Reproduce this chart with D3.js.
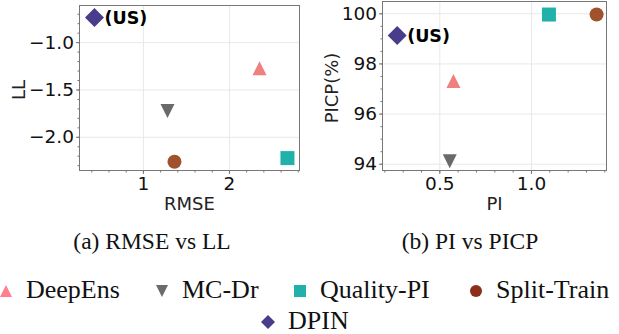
<!DOCTYPE html>
<html>
<head>
<meta charset="utf-8">
<script src="https://cdn.jsdelivr.net/npm/d3@7"></script>
<style>
  body { margin: 0; background: #fff; }
  .tk text { fill: #111; }
</style>
</head>
<body>
<div id="chart"></div>
<script>
// methods and their scores
var methods = ["DeepEns", "MC-Dr", "Quality-PI", "Split-Train", "DPIN"];
var rmse = [2.356, 1.286, 2.68, 1.367, 0.437];
var ll   = [-1.275, -1.728, -2.225, -2.264, -0.74];
var pi   = [0.577, 0.557, 1.098, 1.358, 0.27];
var picp = [97.3, 94.1, 99.95, 99.95, 99.11];

var shapes = ["up", "down", "square", "circle", "diamond"];
var colors = ["#f08080", "#696969", "#20b2aa", "#a0522d", "#483d8b"];
var legendColors = ["#ff7f8e", "#6b6b6b", "#20b2aa", "#8b2f1a", "#483d8b"];

var oursLabel = "(US)";
var captions = ["(a) RMSE vs LL", "(b) PI vs PICP"];

var svg = d3.select("#chart")
  .append("svg")
    .attr("width", 619)
    .attr("height", 334);

// marker path for each shape, r = half size
function marker(shape, r) {
  if (shape == "up") return "M0," + (-r) + "L" + r + "," + r + "L" + (-r) + "," + r + "Z";
  if (shape == "down") return "M0," + r + "L" + r + "," + (-r) + "L" + (-r) + "," + (-r) + "Z";
  if (shape == "square") return "M" + (-r) + "," + (-r) + "h" + (2*r) + "v" + (2*r) + "h" + (-2*r) + "Z";
  if (shape == "diamond") return "M0," + (-r) + "L" + r + ",0L0," + r + "L" + (-r) + ",0Z";
  return d3.symbol().type(d3.symbolCircle).size(Math.PI * r * r)();
}

function panel(p) {
  var x = d3.scaleLinear().domain(p.xd).range([p.left, p.right]);
  var y = d3.scaleLinear().domain(p.yd).range([p.bottom, p.top]);
  var w = p.right - p.left, h = p.bottom - p.top;

  var g = svg.append("g");

  // grid
  g.append("g")
    .attr("transform", "translate(0," + p.bottom + ")")
    .call(d3.axisBottom(x).tickValues(p.xt).tickSize(-h).tickFormat(""))
    .call(function(s) { s.select(".domain").remove(); })
    .selectAll("line").attr("stroke", "#e8e8e8");
  g.append("g")
    .attr("transform", "translate(" + p.left + ",0)")
    .call(d3.axisLeft(y).tickValues(p.yt).tickSize(-w).tickFormat(""))
    .call(function(s) { s.select(".domain").remove(); })
    .selectAll("line").attr("stroke", "#e8e8e8");

  // minor ticks
  g.append("g")
    .attr("transform", "translate(0," + p.bottom + ")")
    .call(d3.axisBottom(x).tickValues(p.xm).tickSize(2).tickFormat(""))
    .call(function(s) { s.select(".domain").remove(); })
    .selectAll("line").attr("stroke", "#777");
  g.append("g")
    .attr("transform", "translate(" + p.left + ",0)")
    .call(d3.axisLeft(y).tickValues(p.ym).tickSize(2).tickFormat(""))
    .call(function(s) { s.select(".domain").remove(); })
    .selectAll("line").attr("stroke", "#777");

  // major ticks and labels
  var xa = g.append("g")
    .attr("class", "tk")
    .attr("transform", "translate(0," + p.bottom + ")")
    .call(d3.axisBottom(x).tickValues(p.xt).tickFormat(d3.format(p.xf)).tickSize(3.5).tickPadding(3));
  var ya = g.append("g")
    .attr("class", "tk")
    .attr("transform", "translate(" + p.left + ",0)")
    .call(d3.axisLeft(y).tickValues(p.yt).tickFormat(d3.format(p.yf)).tickSize(3.5).tickPadding(2));
  [xa, ya].forEach(function(a) {
    a.attr("font-size", 18.5).attr("font-family", "DejaVu Sans");
    a.select(".domain").remove();
    a.selectAll("line").attr("stroke", "#777");
  });

  // frame
  g.append("rect")
    .attr("x", p.left).attr("y", p.top)
    .attr("width", w).attr("height", h)
    .attr("fill", "none")
    .attr("stroke", "#777")
    .attr("stroke-width", 1);

  // axis labels
  g.append("text")
    .attr("x", (p.left + p.right) / 2)
    .attr("y", 210)
    .attr("text-anchor", "middle")
    .style("font-family", "DejaVu Sans")
    .style("font-size", "18px")
    .attr("fill", "#222")
    .text(p.xl);
  g.append("text")
    .attr("transform", "translate(" + p.ylx + "," + ((p.top + p.bottom) / 2 + 2) + ")rotate(-90)")
    .attr("text-anchor", "middle")
    .style("font-family", "DejaVu Sans")
    .style("font-size", "18px")
    .attr("fill", "#222")
    .text(p.yl);

  // points
  g.selectAll("path.pt")
    .data(methods)
    .enter()
    .append("path")
      .attr("class", "pt")
      .attr("transform", function(d, i) { return "translate(" + x(p.xs[i]) + "," + y(p.ys[i]) + ")"; })
      .attr("d", function(d, i) { return marker(shapes[i], shapes[i] == "diamond" ? 9.5 : 7); })
      .attr("fill", function(d, i) { return colors[i]; });

  // (US) label next to DPIN
  var k = methods.indexOf("DPIN");
  g.append("text")
    .attr("x", x(p.xs[k]) + 10)
    .attr("y", y(p.ys[k]) + 6)
    .style("font-family", "DejaVu Sans")
    .style("font-weight", "bold")
    .style("font-size", "17.5px")
    .attr("fill", "#000")
    .text(oursLabel);

  // caption
  svg.append("text")
    .attr("x", p.cx)
    .attr("y", 249)
    .attr("text-anchor", "middle")
    .style("font-family", "Liberation Serif")
    .style("font-size", "23.5px")
    .attr("fill", "#111")
    .text(p.caption);
}

panel({
  left: 79.5, right: 299.5, top: 5.5, bottom: 170.5,
  xd: [0.263, 2.82], yd: [-2.356, -0.613],
  xt: [1, 2], yt: [-2.0, -1.5, -1.0],
  xm: d3.range(0.4, 2.81, 0.2), ym: d3.range(-2.3, -0.65, 0.1),
  xf: "d", yf: ".1f",
  xs: rmse, ys: ll, xl: "RMSE", yl: "LL", ylx: 25,
  caption: captions[0], cx: 152
});

panel({
  left: 382.5, right: 606.5, top: 1.5, bottom: 170.5,
  xd: [0.19, 1.412], yd: [93.73, 100.47],
  xt: [0.5, 1.0], yt: [94, 96, 98, 100],
  xm: d3.range(0.2, 1.41, 0.1), ym: d3.range(94, 100.3, 0.5),
  xf: ".1f", yf: "d",
  xs: pi, ys: picp, xl: "PI", yl: "PICP(%)", ylx: 338,
  caption: captions[1], cx: 470
});

// legend
var legX = [6, 162, 300, 476, 268];
var legY = [291, 291, 291, 291, 322];
var leg = svg.selectAll("g.leg")
  .data(methods)
  .enter()
  .append("g")
    .attr("class", "leg")
    .attr("transform", function(d, i) { return "translate(" + legX[i] + "," + legY[i] + ")"; });
leg.append("path")
  .attr("d", function(d, i) { return marker(shapes[i], shapes[i] == "diamond" ? 7 : 6); })
  .attr("fill", function(d, i) { return legendColors[i]; });
leg.append("text")
  .attr("x", 20)
  .attr("y", 7)
  .style("font-family", "Liberation Serif")
  .style("font-size", "26px")
  .attr("fill", "#111")
  .text(function(d) { return d; });
</script>
</body>
</html>
